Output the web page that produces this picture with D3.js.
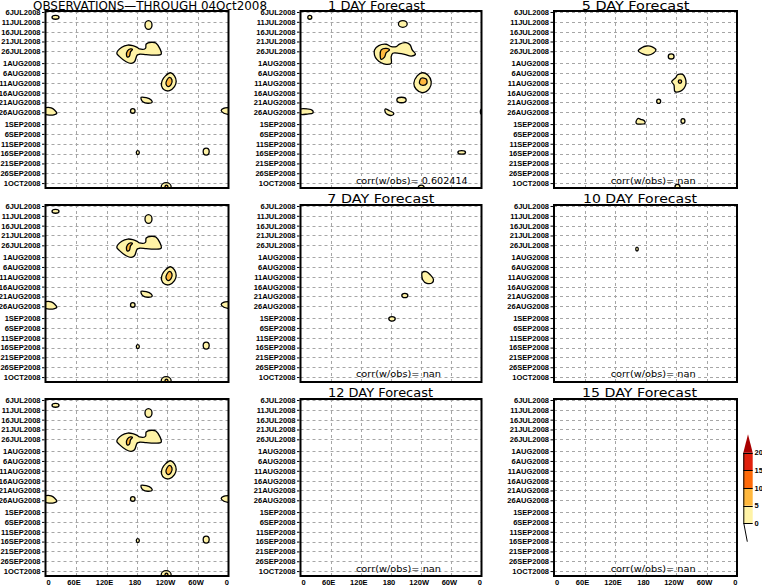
<!DOCTYPE html>
<html><head><meta charset="utf-8">
<script src="https://cdn.jsdelivr.net/npm/d3@7"></script>
<style>body{margin:0;background:#fff}svg{display:block}</style>
</head><body>
<svg id="c" width="762" height="586"></svg>
<script>
// ---------------- data ----------------
const lonTicks = [0, 60, 120, 180, 240, 300, 360];
const lonLabels = ["0", "60E", "120E", "180", "120W", "60W", "0"];
const dateTicks = ["2008-07-06","2008-07-11","2008-07-16","2008-07-21","2008-07-26","2008-08-01","2008-08-06","2008-08-11","2008-08-16","2008-08-21","2008-08-26","2008-09-01","2008-09-06","2008-09-11","2008-09-16","2008-09-21","2008-09-26","2008-10-01"];
const panelTitles = ["OBSERVATIONS\u2014THROUGH 04Oct2008", "1 DAY Forecast", "5 DAY Forecast", "", "7 DAY Forecast", "10 DAY Forecast", "", "12 DAY Forecast", "15 DAY Forecast"];
const corrLabels = [null, "corr(w/obs)= 0.602414", "corr(w/obs)= nan", null, "corr(w/obs)= nan", "corr(w/obs)= nan", null, "corr(w/obs)= nan", "corr(w/obs)= nan"];
const colorLevels = [0, 5, 10, 15, 20];
const colorFills = ["#fff3a6", "#ffb83d", "#ff6a08", "#e0200c", "#a80000"];

// blob outlines: [longitude (deg E), day counted from 1 JUL 2008 = 1]
// lev 1 = 0-5 band, lev 2 = 5-10 band; e = [lon, day, lonRadius, dayRadius]
const obsBlobs = [
  {lev:1, e:[19.7, 8.7, 6.9, 1.0]},
  {lev:1, e:[202.6, 12.6, 6.9, 2.2]},
  {lev:1, pts:[[140.3,27.0],[150.1,23.95],[161.9,22.8],[171.7,23.1],[180.4,24.0],[184.9,24.8],[196.7,24.5],[198.1,22.3],[207.9,21.4],[217.7,21.9],[227.6,27.4],[214.4,27.9],[198.1,27.7],[184.9,27.5],[180.4,27.9],[175.1,31.3],[168.6,32.1],[158.7,31.3],[145.6,28.7]]},
  {lev:2, pts:[[159.3,27.9],[161.3,25.8],[167.2,24.8],[171.1,25.1],[167.2,26.3],[165.2,28.4],[161.3,28.9]]},
  {lev:1, pts:[[245.9,36.9],[253.7,38.5],[257.1,41.4],[253.7,44.0],[243.9,46.0],[234.1,45.7],[228.2,43.6],[229.5,40.9],[236.0,38.5]]},
  {lev:2, pts:[[243.9,39.3],[248.8,40.6],[246.9,42.9],[241.0,43.9],[237.0,42.6],[239.0,40.6]]},
  {lev:1, pts:[[188.2,49.4],[198.1,49.6],[207.9,50.75],[209.9,51.9],[201.2,52.4],[191.4,51.6],[188.2,50.4]]},
  {lev:1, e:[171.7, 56.3, 4.5, 1.2]},
  {lev:1, pts:[[-14.4,56.1],[-9.9,55.0],[0,54.6],[11.2,54.7],[17.7,55.8],[22.2,57.5],[14.4,58.4],[0,58.1],[-9,57.5]]},
  {lev:1, e:[181.6, 77.5, 3.0, 1.0]},
  {lev:1, e:[316.1, 77.0, 5.9, 1.8]},
  {lev:1, e:[237.4, 95.0, 9.8, 2.2]},
  {lev:2, e:[238.0, 95.2, 3.0, 1.2]}
];
const day1Blobs = [
  {lev:1, e:[18.5, 8.7, 4.0, 1.0]},
  {lev:1, e:[203.5, 12.1, 8.7, 1.7]},
  {lev:1, pts:[[147.2,25.3],[155.7,23.1],[170.5,22.4],[180.4,23.6],[190.3,23.6],[196.9,22.3],[210.2,21.6],[218.2,22.8],[222.2,25.3],[228.7,27.5],[220.2,28.4],[206.9,27.5],[195.5,27.0],[183.6,27.0],[180.4,28.7],[180.4,32.1],[170.5,32.6],[160.5,31.8],[151.8,30.1],[147.2,27.9]]},
  {lev:2, pts:[[160.5,25.3],[170.5,24.5],[177.0,25.3],[170.5,26.7],[167.1,29.0],[160.5,30.1],[158.5,27.9]]},
  {lev:1, pts:[[242.1,36.9],[253.2,38.0],[260.0,41.4],[256.6,44.8],[242.1,47.0],[230.1,45.3],[225.4,42.3],[232.1,38.5]]},
  {lev:2, pts:[[240.1,39.7],[250.0,40.1],[251.2,42.3],[243.3,43.3],[236.7,42.3]]},
  {lev:1, e:[200.9, 50.75, 9.3, 1.4]},
  {lev:1, pts:[[168.5,55.3],[177.0,56.2],[185.6,57.5],[182.4,58.5],[173.6,58.2],[168.5,56.8]]},
  {lev:1, pts:[[-1,55.5],[13.9,55.3],[23.9,56.1],[24.5,57.4],[13.9,57.9],[-1,57.9]]},
  {lev:1, e:[320.6, 77.4, 7.6, 0.9]},
  {lev:1, e:[240.1, 95.5, 6.0, 1.5]}
];
const day5Blobs = [
  {lev:1, pts:[[165.8,25.7],[172.5,24.2],[182.3,23.3],[192.2,23.6],[200.6,25.3],[195.3,27.0],[185.5,27.9],[175.7,27.4]]},
  {lev:1, e:[230.5, 28.6, 5.7, 1.3]},
  {lev:1, pts:[[242.5,38.0],[253.2,37.7],[258.3,39.7],[259.6,42.6],[255.7,44.8],[249.2,46.2],[238.0,46.5],[236.0,43.1],[231.5,41.4],[240.0,39.2]]},
  {lev:2, e:[247.8, 41.4, 3.3, 0.9]},
  {lev:1, e:[205.9, 51.4, 3.9, 1.1]},
  {lev:1, pts:[[161.3,61.8],[165.8,60.1],[170.5,60.6],[177.6,61.3],[179.0,62.6],[162.6,62.8]]},
  {lev:1, e:[253.7, 61.4, 3.9, 1.2]},
  {lev:1, e:[242.9, 95.0, 4.9, 1.3]}
];
const day7Blobs = [
  {lev:1, pts:[[242.1,39.9],[250.0,39.4],[258.6,41.1],[264.5,43.3],[262.0,45.0],[251.2,45.3],[243.3,43.6]]},
  {lev:1, e:[207.5, 51.5, 6.0, 1.1]},
  {lev:1, e:[182.0, 63.4, 6.4, 1.1]}
];
const day10Blobs = [
  {lev:1, e:[163.3, 27.9, 2.5, 1.0]}
];
const day12Blobs = [];
const day15Blobs = [];
const panelBlobs = [obsBlobs, day1Blobs, day5Blobs, obsBlobs, day7Blobs, day10Blobs, obsBlobs, day12Blobs, day15Blobs];

// ---------------- layout ----------------
const cols = [{x:45.5, w:183}, {x:300.5, w:181}, {x:554, w:183}];
const rows = [{y:11}, {y:205}, {y:399}];
const PH = 177;
const titleLayout = [
  {x:33, len:234, y:9.6}, {x:328, len:97, y:9.6}, {x:581.7, len:107.6, y:9.6},
  null, {x:327.3, len:107, y:202.5}, {x:583, len:114, y:202.5},
  null, {x:328, len:105, y:396.6}, {x:582, len:115, y:396.6}
];
const corrBase = [183.5, 376.5, 572];

const svg = d3.select("#c");
const dayDate = d => new Date(Date.UTC(2008, 6, 1) + (d - 1) * 864e5);
const parse = d3.utcParse("%Y-%m-%d");
const tickDates = dateTicks.map(parse);
const fmtDate = d => d3.utcFormat("%-d%b%Y")(d).toUpperCase();

panelBlobs.forEach((blobs, i) => {
  const ci = i % 3, ri = Math.floor(i / 3);
  const c = cols[ci], r = rows[ri];
  const x = d3.scaleLinear().domain([0, 360]).range([c.x, c.x + c.w]);
  const y = d3.scaleUtc().domain([dayDate(5.5), dayDate(95.5)]).range([r.y, r.y + PH]);
  const g = svg.append("g");
  const cid = "clip" + i;
  g.append("clipPath").attr("id", cid).append("rect")
    .attr("x", c.x).attr("y", r.y).attr("width", c.w).attr("height", PH);
  const inner = g.append("g").attr("clip-path", `url(#${cid})`);
  // grid
  inner.selectAll(".vg").data(lonTicks.slice(1, -1)).join("line")
    .attr("x1", d => Math.round(x(d)) + 0.5).attr("x2", d => Math.round(x(d)) + 0.5)
    .attr("y1", r.y).attr("y2", r.y + PH)
    .attr("stroke", "#a6a6a6").attr("stroke-width", 1).attr("stroke-dasharray", "3,3");
  inner.selectAll(".hg").data(tickDates).join("line")
    .attr("x1", c.x).attr("x2", c.x + c.w)
    .attr("y1", d => Math.round(y(d)) + 0.5).attr("y2", d => Math.round(y(d)) + 0.5)
    .attr("stroke", "#a6a6a6").attr("stroke-width", 1).attr("stroke-dasharray", "3,3");
  // blobs
  const line = d3.line().x(d => x(d[0])).y(d => y(dayDate(d[1])))
    .curve(d3.curveCatmullRomClosed.alpha(0.5));
  blobs.forEach(b => {
    const lons = b.pts ? b.pts.map(p => p[0]) : [b.e[0] - b.e[2], b.e[0] + b.e[2]];
    const offs = [0];
    if (d3.min(lons) < 0) offs.push(360);
    if (d3.max(lons) > 360) offs.push(-360);
    offs.forEach(off => {
      let el;
      if (b.pts) {
        el = inner.append("path").attr("d", line(b.pts.map(p => [p[0] + off, p[1]])));
      } else {
        el = inner.append("ellipse")
          .attr("cx", x(b.e[0] + off)).attr("cy", y(dayDate(b.e[1])))
          .attr("rx", x(b.e[0] + b.e[2]) - x(b.e[0]))
          .attr("ry", y(dayDate(b.e[1] + b.e[3])) - y(dayDate(b.e[1])));
      }
      el.attr("fill", colorFills[b.lev - 1]).attr("stroke", "#000").attr("stroke-width", 1.3);
    });
  });
  // frame
  g.append("rect").attr("x", c.x).attr("y", r.y).attr("width", c.w).attr("height", PH)
    .attr("fill", "none").attr("stroke", "#000").attr("stroke-width", 2);
  // y axis
  const ya = g.append("g").attr("transform", `translate(${c.x - 1},0)`)
    .call(d3.axisLeft(y).tickValues(tickDates).tickFormat(fmtDate).tickSize(2.5).tickPadding(1.5));
  ya.select(".domain").remove();
  ya.selectAll("line").attr("stroke", "#000");
  ya.selectAll("text").attr("font-family", "Liberation Sans, Arial, sans-serif")
    .attr("font-size", 7.5).attr("font-weight", "bold").attr("fill", "#000");
  // x axis on bottom row
  if (ri === 2) {
    const xa = g.append("g").attr("transform", `translate(0,${r.y + PH})`)
      .call(d3.axisBottom(x).tickValues(lonTicks).tickFormat((d, k) => lonLabels[k]).tickSize(0).tickPadding(4));
    xa.select(".domain").remove();
    xa.selectAll("text").attr("font-family", "Liberation Sans, Arial, sans-serif")
      .attr("font-size", 7.5).attr("font-weight", "bold").attr("fill", "#000")
      .attr("dy", "0.72em")
      .attr("text-anchor", (d, k) => k === 0 ? "start" : (k === lonTicks.length - 1 ? "end" : "middle"))
      .attr("dx", (d, k) => k === 0 ? 0.5 : (k === lonTicks.length - 1 ? 0 : -2.5));
  }
  // title
  if (panelTitles[i]) {
    const t = titleLayout[i];
    svg.append("text").attr("x", t.x).attr("y", t.y)
      .attr("textLength", t.len).attr("lengthAdjust", "spacingAndGlyphs")
      .attr("font-family", "DejaVu Sans, sans-serif").attr("font-size", 12)
      .attr("fill", "#000").text(panelTitles[i]);
  }
  // correlation
  if (corrLabels[i]) {
    const long = corrLabels[i].length > 17;
    svg.append("text").attr("x", ci === 1 ? 356 : 610.7).attr("y", corrBase[ri])
      .attr("textLength", long ? 111.7 : 85).attr("lengthAdjust", "spacingAndGlyphs")
      .attr("font-family", "DejaVu Sans, sans-serif").attr("font-size", 9.5)
      .attr("fill", "#000").text(corrLabels[i]);
  }
});

// ---------------- colour bar ----------------
const cbX = 743.3, cbW = 9.4;
const cbY = d3.scaleLinear().domain([0, 20]).range([523.3, 452.7]);
const cb = svg.append("g");
colorLevels.slice(0, -1).forEach((v, k) => {
  cb.append("rect").attr("x", cbX).attr("y", cbY(colorLevels[k + 1]))
    .attr("width", cbW).attr("height", cbY(v) - cbY(colorLevels[k + 1]))
    .attr("fill", colorFills[k]);
});
const cbTop = cbY(20);
cb.append("path").attr("d", `M${cbX},${cbTop}L${cbX + cbW},${cbTop}L${cbX + cbW / 2},${cbTop - 18.4}Z`)
  .attr("fill", colorFills[4]);
cb.append("line").attr("x1", cbX + 0.5).attr("x2", cbX + 0.5).attr("y1", cbY(0)).attr("y2", cbTop)
  .attr("stroke", "#000").attr("stroke-width", 1);
cb.append("line").attr("x1", cbX + 0.5).attr("y1", cbY(0)).attr("x2", cbX + 4).attr("y2", cbY(0) + 18.4)
  .attr("stroke", "#000").attr("stroke-width", 1);
colorLevels.forEach(v => {
  cb.append("line").attr("x1", cbX).attr("x2", cbX + cbW)
    .attr("y1", Math.round(cbY(v)) + 0.5).attr("y2", Math.round(cbY(v)) + 0.5)
    .attr("stroke", "#000").attr("stroke-width", 1);
  cb.append("text").attr("x", cbX + cbW + 1.8).attr("y", cbY(v)).attr("dy", "0.36em")
    .attr("font-family", "Liberation Sans, Arial, sans-serif").attr("font-size", 7.5)
    .attr("font-weight", "bold").attr("fill", "#000").text(v);
});
</script>
</body></html>
